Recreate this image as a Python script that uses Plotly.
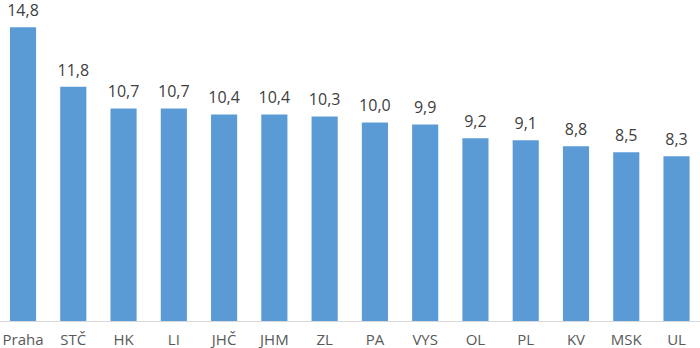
import plotly.graph_objects as go

categories = ["Praha", "STČ", "HK", "LI", "JHČ", "JHM", "ZL", "PA", "VYS", "OL", "PL", "KV", "MSK", "UL"]
values = [14.8, 11.8, 10.7, 10.7, 10.4, 10.4, 10.3, 10.0, 9.9, 9.2, 9.1, 8.8, 8.5, 8.3]

fig = go.Figure()
fig.add_trace(go.Bar(
    x=categories, y=values,
    width=0.52,
    marker=dict(color="#5b9bd5", line=dict(width=0)),
    hoverinfo="skip",
))
fig.add_trace(go.Scatter(
    x=categories, y=values,
    mode="markers+text",
    marker=dict(size=10, opacity=0),
    text=[f"{v:.1f}".replace(".", ",") for v in values],
    textposition="top center",
    textfont=dict(family="Open Sans", size=16, color="#404040"),
    cliponaxis=False,
))
fig.update_layout(
    width=700, height=348,
    margin=dict(l=0, r=0, t=0, b=27),
    plot_bgcolor="white", paper_bgcolor="white",
    separators=",.",
    showlegend=False,
    xaxis=dict(range=[-0.458, 13.467], showline=True, linecolor="#d9d9d9", linewidth=1,
               tickfont=dict(family="Open Sans", size=15, color="#595959"), ticks="",
               ticklabelstandoff=5, showgrid=False),
    yaxis=dict(range=[0, 16.17], visible=False, showgrid=False, zeroline=False),
)
fig.write_html("out.html")
